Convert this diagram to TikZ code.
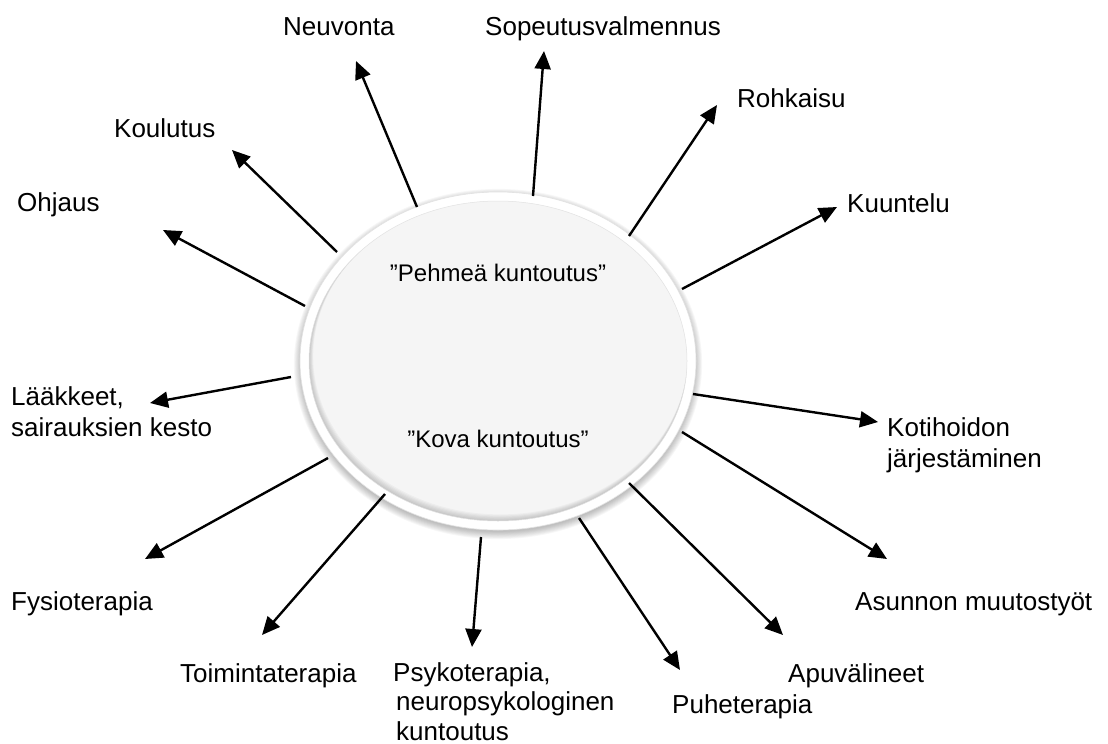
\documentclass[tikz,border=0pt]{standalone}
\usepackage{fontspec}
\setmainfont{Liberation Sans}
\usetikzlibrary{arrows.meta,shapes.geometric}
\definecolor{ringgray}{HTML}{E2E2E2}
\definecolor{innerfill}{HTML}{F5F5F5}
\begin{document}
\begin{tikzpicture}[x=1pt,y=-1pt,
  lbl/.style={inner sep=0pt, anchor=base west, font=\fontsize{26}{31}\selectfont, align=left},
  inlbl/.style={inner sep=0pt, anchor=base, font=\fontsize{24}{29}\selectfont},
  arr/.style={line width=2.4pt, -{Triangle[length=18pt,width=16pt]}},
  ring/.style={ellipse, inner sep=0pt, minimum width=396pt, minimum height=338pt, fill=white, draw=ringgray, line width=0.6pt}
]
\useasboundingbox (0,0) rectangle (1108,744);
% soft drop shadow
\foreach \i in {1,...,9}{
  \fill[black,opacity=0.03] (498,364) ellipse ({196pt+\i*0.9pt} and {167pt+\i*0.9pt});
}
\node[ring] (E) at (498,361) {};
% inner face
\fill[innerfill] (E.center) ellipse (189pt and 160pt);
\begin{scope}
  \clip (E.center) ellipse (189pt and 160pt);
  \foreach \k in {1,...,6}{
    \fill[black,opacity=0.03,even odd rule] (E.center) ellipse (192pt and 163pt)
      ([xshift={\k*0.4pt},yshift={\k*0.8pt}]E.center) ellipse ({189pt-\k*0.3pt} and {160pt-\k*0.3pt});
  }
\end{scope}
\draw[ringgray,line width=0.5pt] (E.center) ellipse (189pt and 160pt);

% inner texts
\node[inlbl] (soft) at (498,281) {”Pehmeä kuntoutus”};
\node[inlbl] (hard) at (498,447) {”Kova kuntoutus”};

% labels (anchor = baseline of the last line)
\node[lbl] (neuv) at (283,35) {Neuvonta};
\node[lbl] (sope) at (485,35) {Sopeutusvalmennus};
\node[lbl] (rohk) at (737,107) {Rohkaisu};
\node[lbl] (kuun) at (847,212) {Kuuntelu};
\node[lbl] (koul) at (114,137) {Koulutus};
\node[lbl] (ohja) at (17,211) {Ohjaus};
\node[lbl] (laak) at (11,436) {Lääkkeet,\\sairauksien kesto};
\node[lbl] (koti) at (887,467) {Kotihoidon\\järjestäminen};
\node[lbl] (fysi) at (11,610) {Fysioterapia};
\node[lbl] (asun) at (855,610) {Asunnon muutostyöt};
\node[lbl] (toim) at (180,682) {Toimintaterapia};
\node[lbl, font=\fontsize{26}{29.5}\selectfont] (psyk) at (393,740) {Psykoterapia,\\\hspace{3pt}neuropsykologinen\\\hspace{3pt}kuntoutus};
\node[lbl] (apuv) at (788,682) {Apuvälineet};
\node[lbl] (puhe) at (672,713) {Puheterapia};

% arrow ends
\coordinate (t1) at (417,207);  \coordinate (h1) at (356,61);
\coordinate (t2) at (533,196);  \coordinate (h2) at (544,51);
\coordinate (t3) at (629,236);  \coordinate (h3) at (717,105);
\coordinate (t4) at (682,289);  \coordinate (h4) at (837,207);
\coordinate (t5) at (337,252);  \coordinate (h5) at (232,150);
\coordinate (t6) at (305,306);  \coordinate (h6) at (163,230);
\coordinate (t7) at (291,377);  \coordinate (h7) at (150,403);
\coordinate (t8) at (693,394);  \coordinate (h8) at (878,422);
\coordinate (t9) at (328,458);  \coordinate (h9) at (145,559);
\coordinate (t10) at (385,494); \coordinate (h10) at (262,635);
\coordinate (t11) at (481,537); \coordinate (h11) at (472,647);
\coordinate (t12) at (579,518); \coordinate (h12) at (680,670);
\coordinate (t13) at (629,483); \coordinate (h13) at (783,635);
\coordinate (t14) at (682,432); \coordinate (h14) at (887,559);

\foreach \n in {1,...,14}{ \draw[arr] (t\n) -- (h\n); }
\end{tikzpicture}
\end{document}
